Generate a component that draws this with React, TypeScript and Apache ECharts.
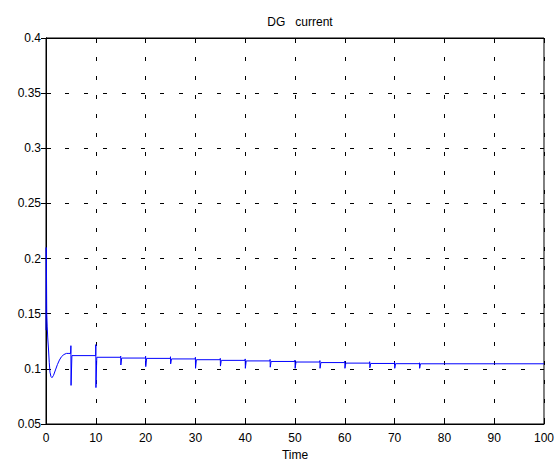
import React, { useEffect, useRef } from "react";
import * as echarts from "echarts";

// Transient start (time, current)
const startTime = [0, 0.04, 0.08, 0.15, 0.25, 0.35, 0.5, 0.65, 0.8, 1.0, 1.2, 1.5, 1.9, 2.3, 2.7, 3.1, 3.6, 4.1, 4.6, 4.95];
const startValue = [0.135, 0.21, 0.2, 0.15, 0.138, 0.128, 0.118, 0.106, 0.097, 0.093, 0.092, 0.094, 0.099, 0.104, 0.108, 0.111, 0.113, 0.114, 0.114, 0.114];

// Switching events: time, peak above, dip below
const eventTime = [5, 10, 15, 20, 25, 30, 35, 40, 45, 50, 55, 60, 65, 70, 75];
const eventPeak = [0.121, 0.122, 0.1115, 0.1115, 0.111, 0.1105, 0.1095, 0.109, 0.1085, 0.108, 0.1075, 0.107, 0.1065, 0.106, 0.1055];
const eventDip = [0.085, 0.083, 0.1035, 0.102, 0.1045, 0.1005, 0.1025, 0.1005, 0.1015, 0.1005, 0.1005, 0.1005, 0.101, 0.1005, 0.1005];

// Settled level after each event (time, current)
const levelTime = [5.2, 10.2, 15.2, 20.2, 25.2, 30.2, 35.2, 40.2, 45.2, 50.2, 55.2, 60.2, 65.2, 70.2, 75.2, 100];
const levelValue = [0.112, 0.1105, 0.1098, 0.1095, 0.109, 0.1083, 0.1077, 0.1072, 0.1067, 0.1062, 0.1057, 0.1052, 0.1049, 0.1047, 0.1046, 0.1046];

const yTicks = [0.05, 0.1, 0.15, 0.2, 0.25, 0.3, 0.35, 0.4];
const xTicks = [0, 10, 20, 30, 40, 50, 60, 70, 80, 90, 100];

function buildData(): [number, number][] {
  const pts: [number, number][] = [];
  for (let i = 0; i < startTime.length; i++) pts.push([startTime[i], startValue[i]]);
  for (let i = 0; i < eventTime.length; i++) {
    const t = eventTime[i];
    const before = i === 0 ? startValue[startValue.length - 1] : levelValue[i - 1];
    pts.push([t - 0.02, before]);
    pts.push([t, eventPeak[i]]);
    pts.push([t + 0.03, eventDip[i]]);
    pts.push([levelTime[i], levelValue[i]]);
  }
  pts.push([levelTime[levelTime.length - 1], levelValue[levelValue.length - 1]]);
  return pts;
}

const fmtY = (v: number) => String(parseFloat(v.toFixed(2)));

export default function App() {
  const ref = useRef<HTMLDivElement>(null);
  useEffect(() => {
    document.body.style.margin = "0";
    const chart = echarts.init(ref.current!, null, { renderer: "svg" });
    const font = "'Liberation Sans', Arial, sans-serif";
    const gridLine = { show: true, lineStyle: { color: "#000", width: 1, type: [4, 15] as any } };
    const yMin = yTicks[0];
    const yMax = yTicks[yTicks.length - 1];
    const xMin = xTicks[0];
    const xMax = xTicks[xTicks.length - 1];
    chart.setOption({
      animation: false,
      backgroundColor: "#fff",
      title: {
        text: "DG\u00a0\u00a0\u00a0current",
        left: 295,
        textAlign: "center",
        top: 11,
        textStyle: { fontFamily: font, fontSize: 12, fontWeight: "normal", color: "#000" },
      },
      grid: { left: 46, right: 11, top: 38, bottom: 36, show: true, borderColor: "#000", borderWidth: 1 },
      xAxis: [
        {
          type: "value",
          min: xMin,
          max: xMax,
          interval: 10,
          name: "Time",
          nameLocation: "middle",
          nameGap: 25,
          nameTextStyle: { fontFamily: font, fontSize: 12, color: "#000" },
          axisLine: { show: true, lineStyle: { color: "#000" } },
          axisTick: { show: true, inside: true, length: 5, lineStyle: { color: "#000" } },
          axisLabel: { fontFamily: font, fontSize: 12, color: "#000", margin: 8 },
          splitLine: gridLine,
        },
        {
          type: "value",
          position: "top",
          min: xMin,
          max: xMax,
          interval: 10,
          axisLine: { show: true, lineStyle: { color: "#000" } },
          axisTick: { show: true, inside: true, length: 5, lineStyle: { color: "#000" } },
          axisLabel: { show: false },
          splitLine: { show: false },
        },
      ],
      yAxis: [
        {
          type: "value",
          min: yMin,
          max: yMax,
          interval: 0.05,
          axisLine: { show: true, lineStyle: { color: "#000" } },
          axisTick: { show: true, inside: true, length: 5, lineStyle: { color: "#000" } },
          axisLabel: { fontFamily: font, fontSize: 12, color: "#000", margin: 5, formatter: fmtY },
          splitLine: gridLine,
        },
        {
          type: "value",
          position: "right",
          min: yMin,
          max: yMax,
          interval: 0.05,
          axisLine: { show: true, lineStyle: { color: "#000" } },
          axisTick: { show: true, inside: true, length: 5, lineStyle: { color: "#000" } },
          axisLabel: { show: false },
          splitLine: { show: false },
        },
      ],
      series: [
        {
          type: "line",
          data: buildData(),
          showSymbol: false,
          symbol: "none",
          lineStyle: { color: "#0000ff", width: 1 },
          z: 5,
        },
      ],
    });
    return () => chart.dispose();
  }, []);
  return <div ref={ref} style={{ width: 557, height: 466 }} />;
}
